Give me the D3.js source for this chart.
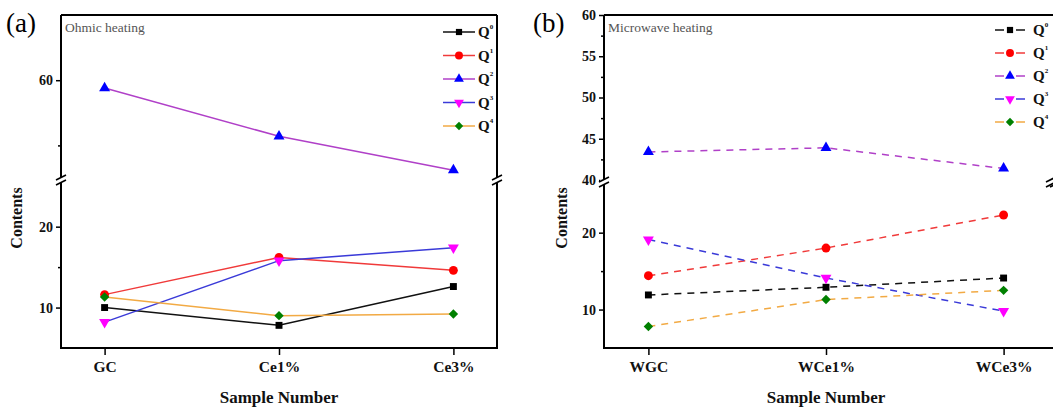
<!DOCTYPE html>
<html>
<head>
<meta charset="utf-8">
<script src="https://cdn.jsdelivr.net/npm/d3@7"></script>
<style>
  body { margin: 0; background: #fff; }
  svg { display: block; }
  text { font-family: "Liberation Serif", "Times New Roman", serif; }
</style>
</head>
<body>
<div id="chart"></div>
<script>
// ---- data ----------------------------------------------------------------
var ohmicCats = ["GC", "Ce1%", "Ce3%"];
var microCats = ["WGC", "WCe1%", "WCe3%"];
var seriesSup = ["0", "1", "2", "3", "4"];

var ohmicQ0 = [10.0, 7.8, 12.6];
var ohmicQ1 = [11.6, 16.2, 14.6];
var ohmicQ2 = [59.4, 55.7, 53.1];
var ohmicQ3 = [8.2, 15.8, 17.4];
var ohmicQ4 = [11.3, 9.0, 9.2];

var microQ0 = [11.9, 12.9, 14.1];
var microQ1 = [14.4, 18.0, 22.3];
var microQ2 = [43.4, 43.9, 41.4];
var microQ3 = [19.1, 14.1, 9.8];
var microQ4 = [7.8, 11.3, 12.5];

// ---- styles per series ---------------------------------------------------
var lineColors   = ["#111111", "#f03a3a", "#b040c8", "#3a3ad8", "#f2aa44"];
var markerColors = ["#000000", "#ff0000", "#0000ff", "#ff00ff", "#008000"];
var markerTypes  = ["square", "circle", "up", "down", "diamond"];

var W = 1053, H = 407;
var svg = d3.select("#chart").append("svg").attr("width", W).attr("height", H);

// marker path + extra rotation
function marker(i, k) {
  k = k || 1;
  var t = markerTypes[i];
  if (t === "square")  return { d: d3.symbol(d3.symbolSquare, 48 * k)(), rot: 0 };
  if (t === "circle")  return { d: d3.symbol(d3.symbolCircle, 62 * k)(), rot: 0 };
  if (t === "up")      return { d: d3.symbol(d3.symbolTriangle, 52 * k)(), rot: 0 };
  if (t === "down")    return { d: d3.symbol(d3.symbolTriangle, 52 * k)(), rot: 180 };
  return { d: d3.symbol(d3.symbolSquare, 44 * k)(), rot: 45 };
}

function breakMark(g, x, y) {
  g.append("rect").attr("x", x - 4).attr("y", y - 2.5).attr("width", 8).attr("height", 5).attr("fill", "#fff");
  [-2.5, 2.5].forEach(function(o) {
    g.append("line")
      .attr("x1", x - 5).attr("y1", y + o + 2.5)
      .attr("x2", x + 5).attr("y2", y + o - 2.5)
      .attr("stroke", "#000").attr("stroke-width", 1.6);
  });
}

function panel(cfg) {
  var g = svg.append("g");
  var x = d3.scalePoint().domain(cfg.cats).range([cfg.left, cfg.xEnd]).padding(0.25);
  var yU = d3.scaleLinear().domain(cfg.upper).range([cfg.breakY - 2, cfg.top]);
  var yL = d3.scaleLinear().domain(cfg.lower).range([cfg.bottom, cfg.breakY + 3]);
  function yOf(v) { return v > cfg.lower[1] ? yU(v) : yL(v); }

  // frame
  g.append("line").attr("x1", cfg.left).attr("x2", cfg.right).attr("y1", cfg.top).attr("y2", cfg.top)
    .attr("stroke", "#000").attr("stroke-width", 2);
  g.append("line").attr("x1", cfg.right).attr("x2", cfg.right).attr("y1", cfg.top).attr("y2", cfg.bottom)
    .attr("stroke", "#000").attr("stroke-width", 2);

  // y axes (upper & lower)
  var axU = g.append("g").attr("transform", "translate(" + cfg.left + ",0)")
    .call(d3.axisLeft(yU).tickValues(cfg.upperTicks).tickSize(5).tickPadding(3).tickFormat(d3.format("d")));
  var axUm = g.append("g").attr("transform", "translate(" + cfg.left + ",0)")
    .call(d3.axisLeft(yU).tickValues(cfg.upperMinor).tickSize(3).tickFormat(""));
  var axL = g.append("g").attr("transform", "translate(" + cfg.left + ",0)")
    .call(d3.axisLeft(yL).tickValues(cfg.lowerTicks).tickSize(5).tickPadding(3).tickFormat(d3.format("d")));
  var axLm = g.append("g").attr("transform", "translate(" + cfg.left + ",0)")
    .call(d3.axisLeft(yL).tickValues(cfg.lowerMinor).tickSize(3).tickFormat(""));
  [axU, axUm, axL, axLm].forEach(function(a) {
    a.select(".domain").remove();
    a.selectAll("line").attr("stroke-width", 1.5);
    a.selectAll("text").attr("font-size", 14).attr("font-weight", "bold").attr("fill", "#111");
  });
  g.append("line").attr("x1", cfg.left).attr("x2", cfg.left).attr("y1", cfg.top).attr("y2", cfg.bottom)
    .attr("stroke", "#000").attr("stroke-width", 2);

  // x axis
  var axX = g.append("g").attr("transform", "translate(0," + cfg.bottom + ")")
    .call(d3.axisBottom(x).tickSize(7).tickPadding(6));
  axX.select(".domain").remove();
  axX.selectAll("line").attr("stroke-width", 1.5);
  axX.selectAll("text").attr("font-size", 15.5).attr("font-weight", "bold").attr("fill", "#111");
  g.append("line").attr("x1", cfg.left - 1).attr("x2", cfg.right + 1).attr("y1", cfg.bottom).attr("y2", cfg.bottom)
    .attr("stroke", "#000").attr("stroke-width", 2);

  // break marks
  breakMark(g, cfg.left, cfg.breakY);
  breakMark(g, cfg.right, cfg.breakY);

  // series
  cfg.series.forEach(function(vals, i) {
    var pts = vals.map(function(v, j) { return [x(cfg.cats[j]), yOf(v)]; });
    g.append("path").attr("d", d3.line()(pts))
      .attr("fill", "none").attr("stroke", lineColors[i]).attr("stroke-width", 1.5)
      .attr("stroke-dasharray", cfg.dashed ? "7,6" : null);
  });
  cfg.series.forEach(function(vals, i) {
    var m = marker(i);
    vals.forEach(function(v, j) {
      g.append("path").attr("d", m.d)
        .attr("transform", "translate(" + x(cfg.cats[j]) + "," + yOf(v) + ") rotate(" + m.rot + ")")
        .attr("fill", markerColors[i]);
    });
  });

  // titles
  g.append("text").attr("x", cfg.tagX).attr("y", 32).attr("font-size", 27).text(cfg.tag);
  g.append("text").attr("x", cfg.left + 4).attr("y", 32).attr("font-size", 13.5).attr("fill", "#555").text(cfg.title);
  g.append("text").attr("x", (cfg.left + cfg.xEnd) / 2).attr("y", 403).attr("text-anchor", "middle")
    .attr("font-size", 17).attr("font-weight", "bold").attr("fill", "#111").text("Sample Number");
  g.append("text").attr("transform", "translate(" + cfg.yTitleX + ",218) rotate(-90)").attr("text-anchor", "middle")
    .attr("font-size", 16).attr("font-weight", "bold").attr("fill", "#111").text("Contents");

  // legend
  seriesSup.forEach(function(s, i) {
    var ly = cfg.legY + i * cfg.legStep;
    var mx = cfg.legX + cfg.legW / 2;
    if (cfg.dashed) {
      [[cfg.legX, mx - 6], [mx + 6, cfg.legX + cfg.legW]].forEach(function(seg) {
        g.append("line").attr("x1", seg[0]).attr("x2", seg[1]).attr("y1", ly).attr("y2", ly)
          .attr("stroke", lineColors[i]).attr("stroke-width", 1.5);
      });
    } else {
      g.append("line").attr("x1", cfg.legX).attr("x2", cfg.legX + cfg.legW).attr("y1", ly).attr("y2", ly)
        .attr("stroke", lineColors[i]).attr("stroke-width", 1.5);
    }
    var m = marker(i, 0.8);
    g.append("path").attr("d", m.d)
      .attr("transform", "translate(" + mx + "," + ly + ") rotate(" + m.rot + ")")
      .attr("fill", markerColors[i]);
    var t = g.append("text").attr("x", cfg.legX + cfg.legW + cfg.legGap).attr("y", ly + 5)
      .attr("font-size", 15).attr("font-weight", "bold").attr("fill", "#111");
    t.append("tspan").text("Q");
    t.append("tspan").attr("font-size", 7).attr("dy", -8).text(s);
  });
}

panel({
  cats: ohmicCats, left: 61, right: 497, xEnd: 497, top: 15, bottom: 348, breakY: 180,
  upper: [52.5, 65], lower: [5, 25.4],
  upperTicks: [60], upperMinor: [55], lowerTicks: [10, 20], lowerMinor: [15],
  series: [ohmicQ0, ohmicQ1, ohmicQ2, ohmicQ3, ohmicQ4], dashed: false,
  tag: "(a)", tagX: 6, title: "Ohmic heating", yTitleX: 22,
  legX: 443, legW: 32, legGap: 3, legY: 32, legStep: 23.5
});

panel({
  cats: microCats, left: 604, right: 1055, xEnd: 1048, top: 15, bottom: 348, breakY: 182,
  upper: [40, 60], lower: [5, 26.2],
  upperTicks: [40, 45, 50, 55, 60], upperMinor: [42.5, 47.5, 52.5, 57.5], lowerTicks: [10, 20], lowerMinor: [15],
  series: [microQ0, microQ1, microQ2, microQ3, microQ4], dashed: true,
  tag: "(b)", tagX: 533, title: "Microwave heating", yTitleX: 567,
  legX: 995, legW: 30, legGap: 8, legY: 30, legStep: 23
});
// right-edge break mark of panel (b) sits on the image border
breakMark(svg.append("g"), 1051, 182);
</script>
</body>
</html>
